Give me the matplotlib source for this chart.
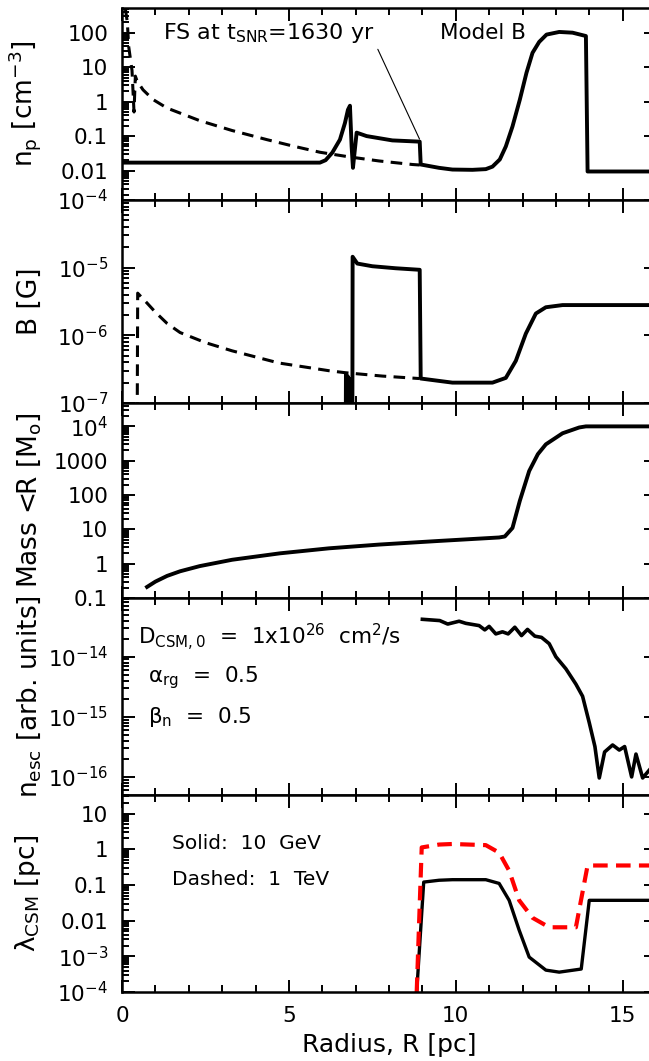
"""Five stacked radial profiles (Model B) at t_SNR = 1630 yr."""
import matplotlib
matplotlib.use("Agg")
import matplotlib.pyplot as plt
import numpy as np
from matplotlib.ticker import (LogLocator, NullFormatter, FuncFormatter,
                               MultipleLocator, FixedLocator)

plt.rcParams['font.family'] = ['DejaVu Sans']
plt.rcParams['mathtext.fontset'] = 'dejavusans'
plt.rcParams['mathtext.default'] = 'regular'

# --- panel 1: proton density n_p [cm^-3]
r_np = [0.0, 5.93, 6.1, 6.3, 6.53, 6.68, 6.77, 6.83, 6.88, 6.92, 7.03, 7.33,
        8.1, 8.92, 8.95, 9.5, 9.9, 10.5, 10.9, 11.1, 11.32, 11.5, 11.7, 11.92,
        12.12, 12.3, 12.5, 12.72, 13.1, 13.5, 13.9, 13.95, 16.0]
np_solid = [0.017, 0.017, 0.02, 0.033, 0.079, 0.24, 0.58, 0.76, 0.05, 0.012,
            0.126, 0.10, 0.075, 0.069, 0.015, 0.012, 0.0107, 0.0105, 0.011,
            0.013, 0.021, 0.05, 0.19, 1.14, 6.9, 26, 54, 88, 105, 100, 80,
            0.0094, 0.0094]
r_np_dash = [0.10, 0.16, 0.20, 0.30, 0.36, 0.40, 0.45, 0.63, 0.93, 1.35, 2.33,
             3.3, 4.34, 5.1, 5.93, 6.8, 7.7, 8.7, 8.92]
np_dash = [500, 200, 40, 8, 0.5, 5.5, 4, 2.2, 1.15, 0.65, 0.28, 0.145, 0.079,
           0.052, 0.034, 0.025, 0.019, 0.015, 0.0145]

# --- panel 2: magnetic field B [G]
r_b = [6.70, 6.71, 6.73, 6.76, 6.78, 6.80, 6.83, 6.90, 6.91, 7.05, 7.5, 8.2,
       8.92, 8.95, 9.9, 11.1, 11.5, 11.8, 12.1, 12.4, 12.7, 13.2, 16.0]
b_solid = [1e-8, 2.7e-7, 1e-8, 2.5e-7, 1e-8, 2.3e-7, 1e-8, 1e-8, 1.45e-5,
           1.15e-5, 1.05e-5, 9.8e-6, 9.3e-6, 2.3e-7, 2.0e-7, 2.0e-7, 2.35e-7,
           4.2e-7, 1.06e-6, 2.1e-6, 2.6e-6, 2.8e-6, 2.8e-6]
r_b_dash = [0.45, 0.47, 0.75, 1.0, 1.35, 1.74, 2.5, 3.3, 4.7, 6.2, 6.7, 7.8, 8.9]
b_dash = [1e-8, 4.2e-6, 3.0e-6, 2.2e-6, 1.5e-6, 1.1e-6, 7.8e-7, 5.9e-7,
          3.9e-7, 3.0e-7, 2.8e-7, 2.5e-7, 2.3e-7]

# --- panel 3: enclosed mass [M_sun]
r_m = [0.75, 1.0, 1.35, 1.74, 2.33, 3.3, 4.73, 6.2, 7.7, 9.5, 11.3, 11.47,
       11.7, 11.92, 12.2, 12.46, 12.7, 13.2, 13.7, 13.9, 16.0]
mass = [0.21, 0.30, 0.44, 0.6, 0.85, 1.3, 2.0, 2.8, 3.6, 4.6, 5.8, 6.2, 11,
        68, 500, 1550, 3000, 6300, 9300, 1.0e4, 1.0e4]

# --- panel 4: escaping CR density [arb. units]
r_esc = [9.0, 9.52, 9.76, 10.1, 10.3, 10.7, 10.87, 11.0, 11.2, 11.4, 11.57,
         11.77, 11.97, 12.15, 12.37, 12.57, 12.8, 13.0, 13.3, 13.6, 13.8, 14.0,
         14.17, 14.3, 14.46, 14.7, 14.9, 15.06, 15.27, 15.4, 15.6, 15.8]
n_esc = [4.2e-14, 4.0e-14, 3.5e-14, 3.9e-14, 3.6e-14, 3.3e-14, 2.8e-14,
         3.2e-14, 2.4e-14, 2.6e-14, 2.4e-14, 3.1e-14, 2.25e-14, 2.85e-14,
         2.2e-14, 2.1e-14, 1.65e-14, 1.0e-14, 6.3e-15, 3.5e-15, 2.2e-15,
         8e-16, 3.2e-16, 9.6e-17, 2.6e-16, 3.4e-16, 2.8e-16, 3.2e-16, 1.0e-16,
         2.4e-16, 9.6e-17, 1.3e-16]

# --- panel 5: mean free path lambda_CSM [pc]
r_lam = [8.83, 9.04, 9.5, 9.9, 10.9, 11.3, 11.6, 11.9, 12.2, 12.7, 13.1,
         13.76, 14.0, 16.0]
lam_10gev = [1e-4, 0.12, 0.135, 0.14, 0.14, 0.11, 0.037, 5.4e-3, 9.5e-4,
             4.1e-4, 3.6e-4, 4.4e-4, 0.037, 0.037]
r_lam_tev = [8.83, 8.98, 9.5, 9.9, 10.9, 11.3, 11.6, 11.9, 12.3, 12.8, 13.6,
             13.95, 16.0]
lam_1tev = [1e-4, 1.12, 1.35, 1.4, 1.3, 0.8, 0.25, 0.037, 0.012, 6.5e-3,
            6.5e-3, 0.35, 0.35]

# labelled decades per panel (exponents)
y_decades = [range(-2, 3), range(-7, -3), range(-1, 5), range(-16, -13), range(-4, 2)]

W, H = 649, 1061
fig = plt.figure(figsize=(W / 100, H / 100), dpi=100)

tops = [8, 200, 403, 598, 795]
bots = [200, 403, 598, 795, 992]
x0, x1 = 122, 656
axes = []
for t, b in zip(tops, bots):
    ax = fig.add_axes([x0 / W, 1 - b / H, (x1 - x0) / W, (b - t) / H])
    axes.append(ax)

TICK_FS = 15.5
LAB_FS = 19
TXT_FS = 15.5


def log_fmt(v, pos):
    n = int(round(np.log10(v)))
    if -2 <= n <= 3:
        return f"{10.0 ** n:g}"
    return rf"$10^{{{n}}}$"


ylims = [(1.4e-3, 520), (1e-7, 1e-4), (0.1, 4.8e4), (5e-17, 9.5e-14), (1e-4, 33)]
ylabels = [r"n$_{\rm p}$ [cm$^{-3}$]", "B [G]", r"Mass <R [M$_{\rm o}$]",
           r"n$_{\rm esc}$ [arb. units]", r"$\lambda_{\rm CSM}$ [pc]"]

for i, ax in enumerate(axes):
    ax.set_yscale('log')
    ax.set_xlim(0, 16)
    ax.set_ylim(*ylims[i])
    ax.xaxis.set_major_locator(MultipleLocator(5))
    ax.xaxis.set_minor_locator(MultipleLocator(1))
    ax.yaxis.set_major_locator(FixedLocator([10.0 ** n for n in y_decades[i]]))
    ax.yaxis.set_minor_locator(LogLocator(base=10, subs=np.arange(2, 10), numticks=30))
    ax.yaxis.set_major_formatter(FuncFormatter(log_fmt))
    ax.yaxis.set_minor_formatter(NullFormatter())
    ax.tick_params(which='both', direction='in', top=True, right=True,
                   width=1.4, labelsize=TICK_FS, pad=10)
    ax.tick_params(which='major', length=9)
    ax.tick_params(which='minor', length=5)
    for s in ax.spines.values():
        s.set_linewidth(1.8)
    if i < 4:
        ax.tick_params(labelbottom=False)
    ax.set_ylabel(ylabels[i], fontsize=LAB_FS)
    ax.yaxis.set_label_coords(-0.148, 0.5)

ax1, ax2, ax3, ax4, ax5 = axes

ax1.plot(r_np, np_solid, color='black', lw=2.8)
ax1.plot(r_np_dash, np_dash, color='black', lw=2.2, ls=(0, (3.8, 2.4)))
ax1.text(1.23, 100, r"FS at t$_{\rm SNR}$=1630 yr", fontsize=TXT_FS + 0.5, va='center')
ax1.text(9.52, 100, "Model B", fontsize=TXT_FS, va='center')
ax1.annotate("", xy=(8.95, 0.069), xytext=(7.63, 39),
             arrowprops=dict(arrowstyle='-', lw=0.8, color='black'))

ax2.plot(r_b, b_solid, color='black', lw=2.8)
ax2.plot(r_b_dash, b_dash, color='black', lw=2.2, ls=(0, (3.8, 2.4)))

ax3.plot(r_m, mass, color='black', lw=2.8)

ax4.plot(r_esc, n_esc, color='black', lw=2.6)
ax4.text(0.03, 0.80, r"D$_{\rm CSM,0}$  =  1x10$^{26}$  cm$^2$/s", fontsize=TXT_FS,
         va='center', transform=ax4.transAxes)
ax4.text(0.049, 0.594, r"$\alpha_{\rm rg}$  =  0.5", fontsize=TXT_FS,
         va='center', transform=ax4.transAxes)
ax4.text(0.049, 0.396, r"$\beta_{\rm n}$  =  0.5", fontsize=TXT_FS,
         va='center', transform=ax4.transAxes)

ax5.plot(r_lam, lam_10gev, color='black', lw=2.4)
ax5.plot(r_lam_tev, lam_1tev, color='red', lw=3.0, ls=(0, (3.5, 2.0)))
ax5.text(0.094, 0.756, "Solid:  10  GeV", fontsize=TXT_FS - 1, va='center',
         transform=ax5.transAxes)
ax5.text(0.094, 0.569, "Dashed:  1  TeV", fontsize=TXT_FS - 1, va='center',
         transform=ax5.transAxes)
ax5.set_xlabel("Radius, R [pc]", fontsize=18, labelpad=5)

fig.savefig("out.png", dpi=100)
